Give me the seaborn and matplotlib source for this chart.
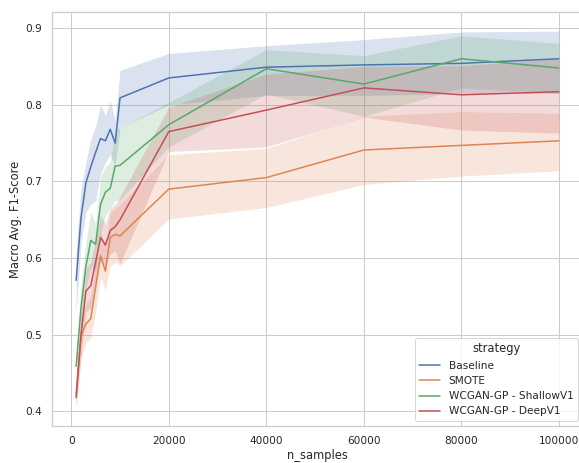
import numpy as np
import pandas as pd
import matplotlib
matplotlib.use("Agg")
import matplotlib.pyplot as plt
import seaborn as sns

n_samples = [1000, 2000, 3000, 4000, 5000, 6000, 7000, 8000, 9000, 10000,
             20000, 40000, 60000, 80000, 100000]
strategies = ["Baseline", "SMOTE", "WCGAN-GP - ShallowV1", "WCGAN-GP - DeepV1"]

baseline_mean = [0.571, 0.653, 0.698, 0.719, 0.738, 0.756, 0.753, 0.768, 0.750, 0.809,
                 0.835, 0.849, 0.852, 0.854, 0.860]
baseline_lo = [0.527, 0.620, 0.660, 0.670, 0.675, 0.710, 0.725, 0.735, 0.720, 0.770,
               0.800, 0.812, 0.812, 0.815, 0.815]
baseline_hi = [0.610, 0.690, 0.725, 0.755, 0.772, 0.800, 0.786, 0.805, 0.780, 0.845,
               0.867, 0.877, 0.885, 0.895, 0.896]

smote_mean = [0.422, 0.498, 0.514, 0.521, 0.562, 0.603, 0.583, 0.627, 0.631, 0.629,
              0.690, 0.705, 0.741, 0.747, 0.753]
smote_lo = [0.410, 0.470, 0.490, 0.495, 0.530, 0.575, 0.558, 0.590, 0.595, 0.590,
            0.651, 0.666, 0.696, 0.707, 0.714]
smote_hi = [0.440, 0.525, 0.540, 0.550, 0.595, 0.635, 0.615, 0.660, 0.665, 0.670,
            0.735, 0.743, 0.785, 0.791, 0.789]

shallow_mean = [0.459, 0.535, 0.589, 0.623, 0.618, 0.670, 0.686, 0.691, 0.720, 0.721,
                0.774, 0.847, 0.827, 0.860, 0.848]
shallow_lo = [0.440, 0.500, 0.560, 0.588, 0.585, 0.630, 0.655, 0.665, 0.675, 0.676,
              0.745, 0.814, 0.785, 0.822, 0.815]
shallow_hi = [0.475, 0.565, 0.620, 0.660, 0.645, 0.705, 0.720, 0.725, 0.765, 0.770,
              0.803, 0.872, 0.864, 0.890, 0.880]

deep_mean = [0.418, 0.500, 0.557, 0.564, 0.595, 0.627, 0.617, 0.636, 0.641, 0.650,
             0.765, 0.793, 0.822, 0.813, 0.817]
deep_lo = [0.403, 0.470, 0.530, 0.535, 0.565, 0.595, 0.590, 0.605, 0.610, 0.593,
           0.739, 0.745, 0.784, 0.767, 0.763]
deep_hi = [0.430, 0.530, 0.585, 0.595, 0.625, 0.655, 0.645, 0.665, 0.670, 0.680,
           0.797, 0.840, 0.850, 0.851, 0.860]

means = [baseline_mean, smote_mean, shallow_mean, deep_mean]
los = [baseline_lo, smote_lo, shallow_lo, deep_lo]
his = [baseline_hi, smote_hi, shallow_hi, deep_hi]

rows = []
for s, m in zip(strategies, means):
    for x, v in zip(n_samples, m):
        rows.append({"n_samples": x, "score": v, "strategy": s})
df = pd.DataFrame(rows)

sns.set_theme(style="whitegrid", font_scale=0.96)
palette = sns.color_palette("deep", 4)

fig = plt.figure(figsize=(579 / 72, 463 / 72), dpi=72)
ax = fig.add_axes([52 / 579, 1 - 426 / 463, (583 - 52) / 579, (426 - 12) / 463])

sns.lineplot(data=df, x="n_samples", y="score", hue="strategy",
             hue_order=strategies, palette=palette, errorbar=None, ax=ax)
for c, lo, hi in zip(palette, los, his):
    ax.fill_between(n_samples, lo, hi, color=c, alpha=0.2, linewidth=0)

ax.set_xlim(-3950, 104950)
ax.set_ylim(0.381, 0.921)
ax.set_xlabel("n_samples")
ax.set_ylabel("Macro Avg. F1-Score")
ax.legend(title="strategy", loc="lower right")

fig.savefig("out.png", dpi=72)
